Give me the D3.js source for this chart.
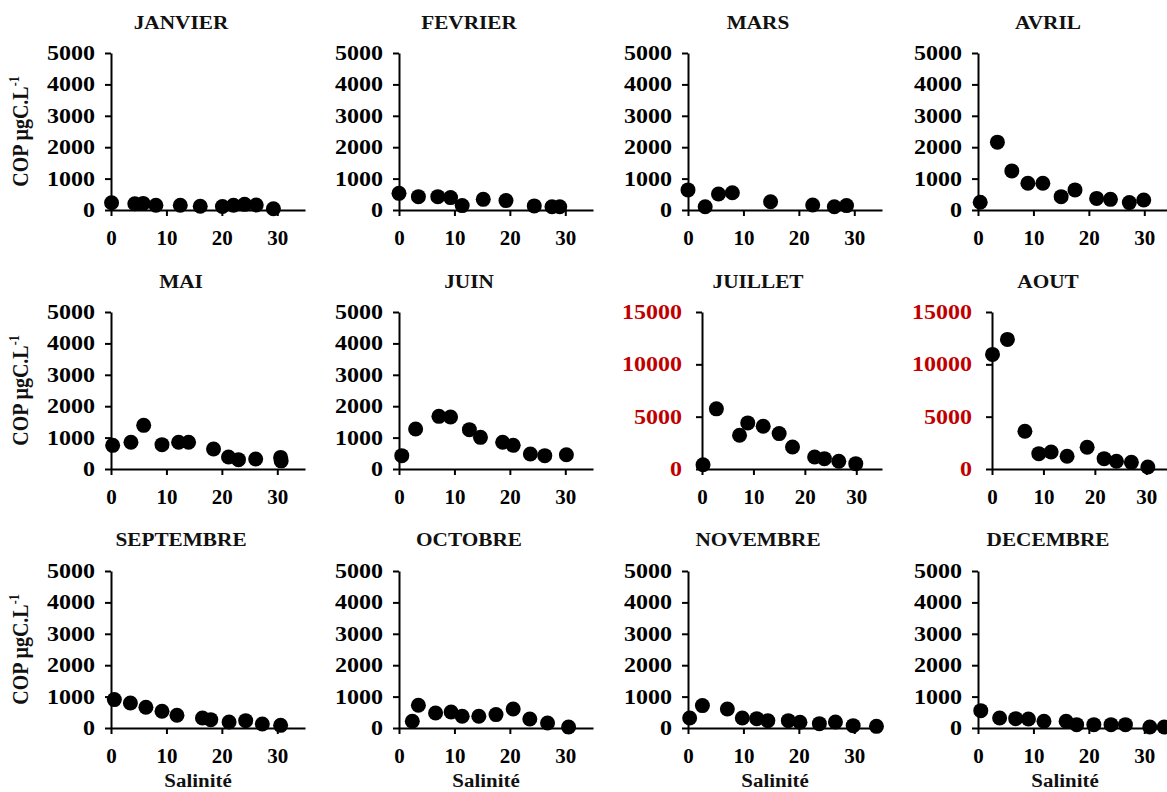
<!DOCTYPE html>
<html><head><meta charset="utf-8">
<script src="https://cdn.jsdelivr.net/npm/d3@7/dist/d3.min.js"></script>
<style>body{margin:0;background:#fff}</style>
</head><body><svg id="c" width="1167" height="792"></svg>
<script>
// ---- data ----
const months = ["JANVIER","FEVRIER","MARS","AVRIL","MAI","JUIN","JUILLET","AOUT","SEPTEMBRE","OCTOBRE","NOVEMBRE","DECEMBRE"];

const janvierSal = [0.1,4.3,5.8,8.1,12.5,16.1,20.1,22.1,24.1,26.2,29.3];
const janvierCop = [230,200,210,150,150,120,110,150,180,160,40];
const fevrierSal = [0,3.5,7.0,9.3,11.4,15.2,19.3,24.4,27.6,29.0];
const fevrierCop = [530,425,425,395,140,340,300,130,105,105];
const marsSal = [0,3.1,5.5,8.0,14.9,22.5,26.4,28.6];
const marsCop = [640,105,510,550,265,160,105,140];
const avrilSal = [0.4,3.5,6.1,9.0,11.7,15.0,17.5,21.4,23.9,27.3,29.9];
const avrilCop = [245,2160,1245,850,850,425,640,370,340,235,320];
const maiSal = [0.3,3.6,5.9,9.2,12.2,14.0,18.5,21.2,23.0,26.1,30.6,30.7];
const maiCop = [754,850,1390,775,850,850,637,382,297,318,370,260];
const juinSal = [0.5,3.0,7.2,9.3,12.7,14.7,18.7,20.6,23.7,26.3,30.2];
const juinCop = [425,1274,1677,1656,1253,1008,850,754,478,425,456];
const juilletSal = [0.2,2.8,7.3,8.9,11.9,15.0,17.6,21.9,23.8,26.6,29.9];
const juilletCop = [400,5745,3223,4405,4085,3383,2106,1149,990,734,510];
const aoutSal = [0.1,3.0,6.4,9.1,11.5,14.6,18.5,21.8,24.2,27.1,30.3];
const aoutCop = [10948,12384,3607,1468,1628,1213,2075,990,734,638,191];
const septembreSal = [0.6,3.5,6.3,9.2,11.9,16.5,18.0,21.3,24.3,27.3,30.6];
const septembreCop = [904,798,660,532,404,319,266,191,234,128,85];
const octobreSal = [2.4,3.5,6.6,9.4,11.4,14.4,17.5,20.6,23.6,26.8,30.6];
const octobreCop = [213,723,479,511,372,372,426,606,287,160,32];
const novembreSal = [0.3,2.6,7.1,9.8,12.4,14.4,18.1,20.2,23.7,26.6,29.8,34.0];
const novembreCop = [319,713,606,319,298,234,234,181,138,191,74,53];
const decembreSal = [0.5,3.9,6.8,9.1,11.9,15.9,17.8,20.9,24.0,26.6,31.0,33.6];
const decembreCop = [553,319,298,287,213,213,106,106,106,106,32,32];

const salByMonth = [janvierSal,fevrierSal,marsSal,avrilSal,maiSal,juinSal,juilletSal,aoutSal,septembreSal,octobreSal,novembreSal,decembreSal];
const copByMonth = [janvierCop,fevrierCop,marsCop,avrilCop,maiCop,juinCop,juilletCop,aoutCop,septembreCop,octobreCop,novembreCop,decembreCop];
const yMaxByMonth = [5000,5000,5000,5000,5000,5000,15000,15000,5000,5000,5000,5000];
const yTicksSmall = [0,1000,2000,3000,4000,5000];
const yTicksLarge = [0,5000,10000,15000];
const xTicks = [0,10,20,30];
const xMax = 35;
const yLabelMain = "COP µgC.L";
const yLabelSup = "-1";
const xLabel = "Salinité";

// ---- layout ----
const FONT = "'Liberation Serif','Times New Roman',serif";
const colX = [111, 399, 688, 978];
const rowZero = [210, 469, 728];
const rowTitle = [28.5, 288, 546];
const plotH = 157, plotW = 194, wideShift = 14;

const svg = d3.select("#c");

months.forEach((m, i) => {
  const r = Math.floor(i / 4), c = i % 4;
  const yMax = yMaxByMonth[i];
  const wide = yMax > 5000;
  const left = colX[c] + (wide ? wideShift : 0);
  const right = colX[c] + plotW;
  const bottom = rowZero[r], top = bottom - plotH;

  const x = d3.scaleLinear().domain([0, xMax]).range([left, right]);
  const y = d3.scaleLinear().domain([0, yMax]).range([bottom, top]);

  const g = svg.append("g");

  // title
  g.append("text")
    .attr("transform", `translate(${colX[c] + 70},${rowTitle[r]}) scale(1.12,1)`)
    .attr("text-anchor", "middle")
    .attr("font-family", FONT).attr("font-weight", "bold").attr("font-size", 19)
    .attr("fill", "#111").text(m);

  // x axis
  const xa = g.append("g").attr("transform", `translate(0,${bottom})`)
    .call(d3.axisBottom(x).tickValues(xTicks).tickFormat(d3.format("d")).tickSize(6).tickSizeOuter(0).tickPadding(14));
  xa.select(".domain").attr("stroke", "#000").attr("stroke-width", 2);
  xa.selectAll(".tick line").attr("stroke", "#000").attr("stroke-width", 2);
  xa.selectAll(".tick text").attr("font-family", FONT).attr("font-weight", "bold")
    .attr("font-size", 21).attr("fill", "#000");

  // y axis
  const pad = wide ? 14 : 10;
  const ya = g.append("g").attr("transform", `translate(${left},0)`)
    .call(d3.axisLeft(y).tickValues(wide ? yTicksLarge : yTicksSmall).tickFormat(d3.format("d")).tickSize(6).tickSizeOuter(0).tickPadding(pad));
  ya.select(".domain").attr("stroke", "#000").attr("stroke-width", 2);
  ya.selectAll(".tick line").attr("stroke", "#000").attr("stroke-width", 2);
  ya.selectAll(".tick text").attr("font-family", FONT).attr("font-weight", "bold")
    .attr("font-size", 20).attr("fill", wide ? "#C00000" : "#000")
    .attr("x", -(6 + pad) / 1.2).attr("transform", "scale(1.2,1)");

  // points
  const pts = salByMonth[i].map((s, k) => [s, copByMonth[i][k]]);
  g.append("g").selectAll("circle").data(pts).join("circle")
    .attr("cx", d => x(d[0])).attr("cy", d => y(d[1])).attr("r", 7.5).attr("fill", "#000");

  // y label (first column)
  if (c === 0) {
    const t = g.append("text")
      .attr("transform", `translate(28,${(top + bottom) / 2}) rotate(-90) scale(1,1.13)`)
      .attr("text-anchor", "middle")
      .attr("font-family", FONT).attr("font-weight", "bold").attr("font-size", 20).attr("fill", "#111");
    t.append("tspan").text(yLabelMain);
    t.append("tspan").attr("font-size", 12).attr("dy", -8).text(yLabelSup);
  }
  // x label (last row)
  if (r === 2) {
    g.append("text")
      .attr("transform", `translate(${x(15.7)},787) scale(1.1,1)`)
      .attr("text-anchor", "middle")
      .attr("font-family", FONT).attr("font-weight", "bold").attr("font-size", 19).attr("fill", "#111")
      .text(xLabel);
  }
});
</script></body></html>
